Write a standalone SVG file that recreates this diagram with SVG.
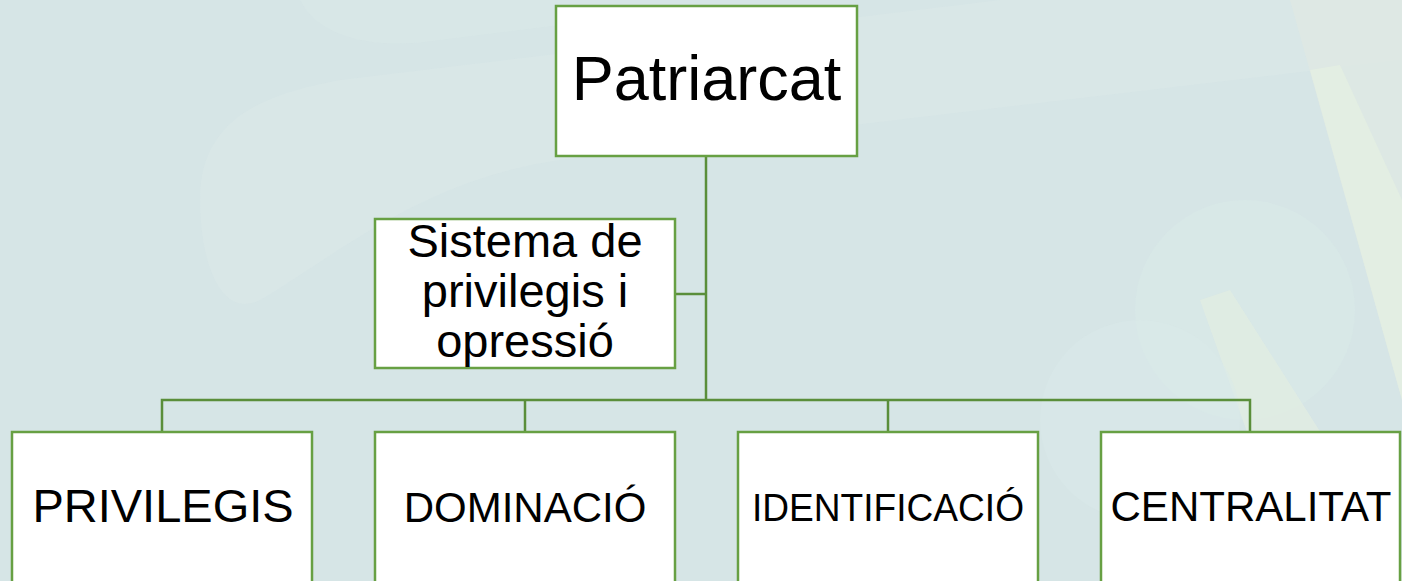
<svg xmlns="http://www.w3.org/2000/svg" width="1402" height="581" viewBox="0 0 1402 581">
<style>
.box{fill:#ffffff;stroke:#67a043;stroke-width:2.5}
.conn{fill:none;stroke:#5a8e3a;stroke-width:2.5}
.t{font-family:"Liberation Sans",Arial,sans-serif;fill:#000000;text-anchor:middle}
</style>
<g id="background">
<rect x="0" y="0" width="1402" height="581" fill="#d6e5e6"/>
<path d="M200 200 C 200 120, 260 95, 340 80 L 1000 0 L 1402 0 L 1402 60 L 560 160 C 420 180, 330 260, 260 300 C 220 320, 200 260, 200 200 Z" fill="#dae8e8" opacity="0.6"/>
<path d="M300 0 C 320 40, 380 50, 440 40 L 560 25 L 560 0 Z" fill="#d9e7e7" opacity="0.6"/>
<circle cx="1245" cy="310" r="110" fill="#d8e9e8" opacity="0.6"/>
<path d="M1290 0 L1402 0 L1402 400 Z" fill="#dfe9e3" opacity="0.8"/>
<path d="M1310 70 L1340 65 L1402 200 L1402 400 Z" fill="#e3eee2" opacity="0.9"/>
<path d="M1200 300 L1230 290 L1300 400 L1402 560 L1402 581 L1300 581 Z" fill="#e1ece2" opacity="0.8"/>
<circle cx="1140" cy="420" r="100" fill="#d9eaea" opacity="0.5"/>
</g>
<g id="connectors">
<line class="conn" x1="706" y1="156" x2="706" y2="400"/>
<line class="conn" x1="675" y1="294" x2="706" y2="294"/>
<polyline class="conn" points="162,431 162,400 1250,400 1250,431"/>
<line class="conn" x1="525" y1="400" x2="525" y2="431"/>
<line class="conn" x1="888" y1="400" x2="888" y2="431"/>
</g>
<g id="node-patriarcat">
<rect class="box" x="556" y="6" width="301" height="150"/>
<text class="t" x="706.5" y="100" font-size="63">Patriarcat</text>
</g>
<g id="node-sistema">
<rect class="box" x="375" y="219" width="300" height="149"/>
<text class="t" x="525" y="257" font-size="47">Sistema de</text>
<text class="t" x="525" y="307" font-size="47">privilegis i</text>
<text class="t" x="525" y="357" font-size="47">opressió</text>
</g>
<g id="node-privilegis">
<rect class="box" x="12" y="432" width="300" height="160"/>
<text class="t" x="163" y="522" font-size="47">PRIVILEGIS</text>
</g>
<g id="node-dominacio">
<rect class="box" x="375" y="432" width="300" height="160"/>
<text class="t" x="525" y="522" font-size="42">DOMINACIÓ</text>
</g>
<g id="node-identificacio">
<rect class="box" x="738" y="432" width="300" height="160"/>
<text class="t" x="888" y="521" font-size="39" textLength="272" lengthAdjust="spacingAndGlyphs">IDENTIFICACIÓ</text>
</g>
<g id="node-centralitat">
<rect class="box" x="1101" y="432" width="299" height="160"/>
<text class="t" x="1251" y="521" font-size="43" textLength="281" lengthAdjust="spacingAndGlyphs">CENTRALITAT</text>
</g>
</svg>
